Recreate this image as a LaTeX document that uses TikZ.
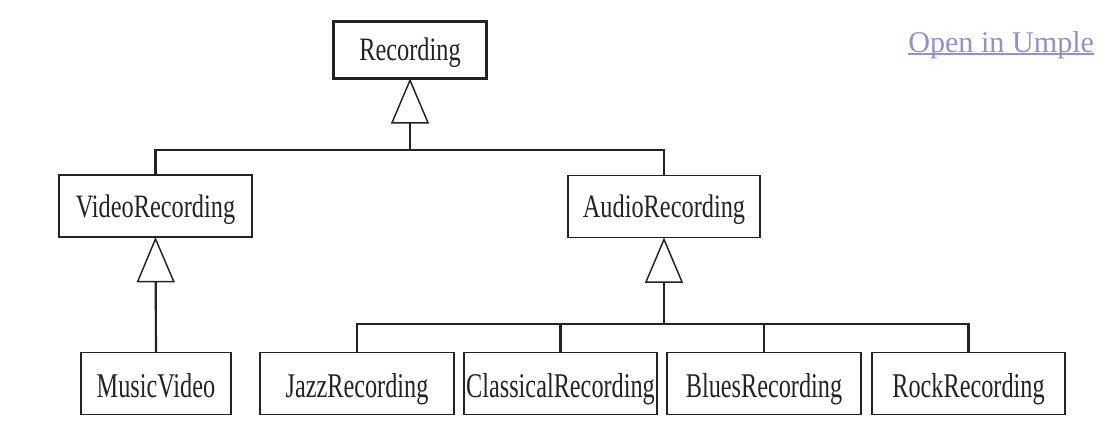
\documentclass[tikz,border=0pt]{standalone}
\usepackage{fontspec}
\setmainfont{Liberation Serif}
\newfontfamily\umlfont[FakeStretch=0.745]{Liberation Serif}
\newfontfamily\umlfontb[FakeStretch=0.70]{Liberation Serif}
\usetikzlibrary{arrows.meta}
\definecolor{linkcol}{RGB}{145,145,205}
\definecolor{inkcol}{RGB}{35,35,35}
\tikzset{
  cls/.style={draw=inkcol, line width=1.1pt, rectangle, inner sep=0pt, outer sep=0pt,
    minimum height=46.5pt, font=\umlfont\fontsize{24.5}{29}\selectfont, text=inkcol, text depth=0pt},
  toprow/.style={text height=15pt},
  midrow/.style={text height=16.5pt},
  botrow/.style={text height=20.5pt, font=\umlfontb\fontsize{26}{31}\selectfont},
  conn/.style={draw=inkcol, line width=1.6pt},
  gen/.style={conn, -{Triangle[open, length=34pt, width=28.5pt, line width=1.1pt]}},
}
\begin{document}
\begin{tikzpicture}[x=0.75pt, y=-0.75pt]
\useasboundingbox (0,0) rectangle (1107,433);
% classes
\node[cls, toprow, line width=2.25pt, minimum width=115pt, minimum height=42.5pt] (rec) at (410,50) {Recording};
\node[cls, midrow, minimum width=144.75pt] (vid) at (155.5,206) {VideoRecording};
\node[cls, midrow, minimum width=144pt] (aud) at (664,206.5) {AudioRecording};
\node[cls, botrow, minimum width=112.5pt] (mus) at (156,383.5) {MusicVideo};
\node[cls, botrow, minimum width=145.5pt] (jazz) at (357,383.5) {JazzRecording};
\node[cls, botrow, minimum width=144.75pt] (class) at (560.5,383.5) {ClassicalRecording};
\node[cls, botrow, minimum width=145.5pt] (blues) at (764,383.5) {BluesRecording};
\node[cls, botrow, minimum width=144.75pt] (rock) at (968.5,383.5) {RockRecording};
% junctions
\coordinate (j1) at (410,150);
\coordinate (j2) at (664,324);
% generalisations
\draw[gen] (j1) -- (rec.south);
\draw[conn] (vid.north) |- (j1) -| (aud.north);
\draw[gen] (mus.north) -- (vid.south);
\draw[gen] (j2) -- (aud.south);
\draw[conn] (jazz.north) |- (j2) -| (rock.north);
\draw[conn] (class.north) -- (class.north |- j2);
\draw[conn] (blues.north) -- (blues.north |- j2);
% link
\node[anchor=base west, inner sep=0pt, text=linkcol, font=\fontsize{22.6}{27}\selectfont] (umple) at (908,52) {Open in Umple};
\draw[linkcol, line width=1.1pt] ([yshift=-1.6pt]umple.base west) -- ([yshift=-1.6pt]umple.base east);
\end{tikzpicture}
\end{document}
